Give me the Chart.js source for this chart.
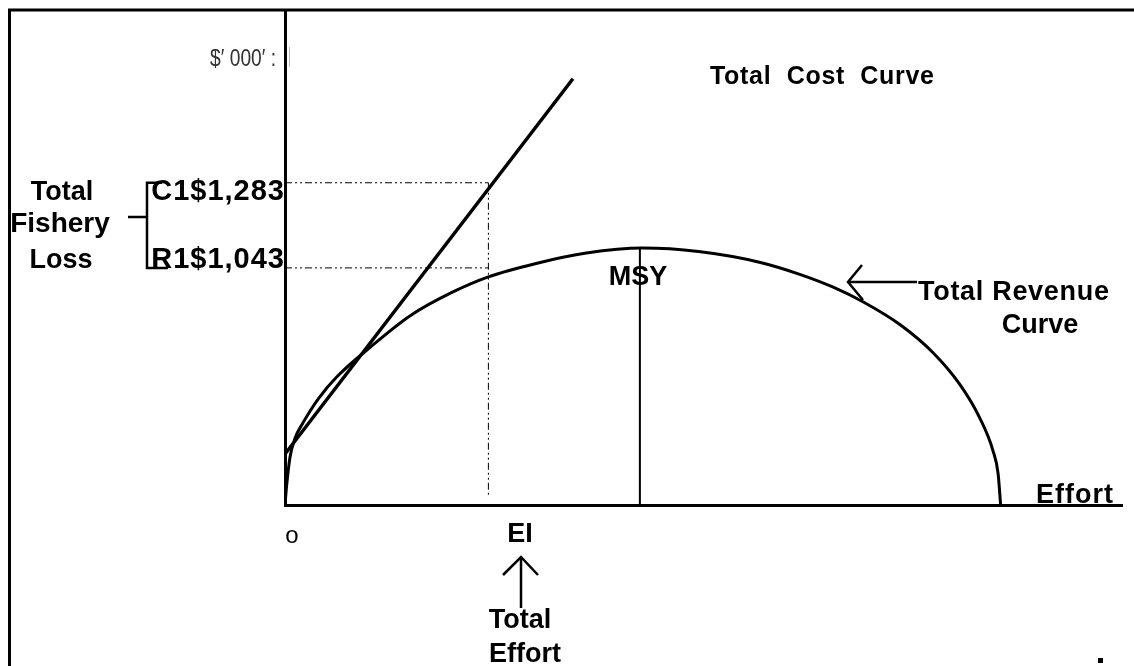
<!DOCTYPE html>
<html>
<head>
<meta charset="utf-8">
<script src="https://cdn.jsdelivr.net/npm/chart.js@4.4.1/dist/chart.umd.min.js"></script>
<style>
  html, body { margin: 0; padding: 0; background: #fff; }
  #wrap { position: absolute; left: 0; top: 0; width: 1134px; height: 666px; }
</style>
</head>
<body>
<div id="wrap"><canvas id="fishChart" width="1134" height="666"></canvas></div>
<script>
// 데이터 (그림에서 읽은 값, 축은 0~100 임의 단위)
const revenueEffort = [0, 0.2, 0.6, 1.2, 2.15, 4, 6.2, 10.2, 15, 20, 24.3, 30, 36, 42.7, 49.4, 56.8, 61.5, 65.5, 69.1, 73.5, 77.4, 80.6, 83.0, 84.6, 85.2, 85.5];
const revenueValue = [0, 4.0, 9.7, 13.5, 16.6, 21.5, 25.9, 31.9, 38.3, 43.0, 46.1, 48.8, 50.9, 51.9, 51.2, 49.0, 46.6, 44.0, 41.0, 36.4, 30.8, 24.4, 17.6, 10.9, 6.3, 0];

const costEffort = [0, 34.4];
const costValue = [10.3, 86.1];

const msyEffort = 42.4;
const msyValue = 51.9;

const eiEffort = 24.3;
const c1Value = 65.1;
const r1Value = 47.9;

const yTickValues = [c1Value, r1Value];
const yTickLabels = ["C1$1,283", "R1$1,043"];

const ctx = document.querySelector("#fishChart");

function pts(xs, ys) {
  return xs.map((x, i) => ({ x: x, y: ys[i] }));
}

const dashStyle = [7, 3, 2, 3, 2, 3];

// 글자 그리기
function text(c, str, x, y, size, align, opt) {
  opt = opt || {};
  c.save();
  c.font = (opt.weight || "bold") + " " + size + "px " + (opt.family || "'Liberation Sans', Arial, sans-serif");
  c.fillStyle = opt.color || "#000";
  c.textAlign = align;
  c.textBaseline = "alphabetic";
  if (opt.ls) c.letterSpacing = opt.ls;
  c.translate(x, y);
  if (opt.sx) c.scale(opt.sx, 1);
  c.fillText(str, 0, 0);
  c.restore();
}

function line(c, p, w) {
  c.beginPath();
  c.moveTo(p[0][0], p[0][1]);
  for (let i = 1; i < p.length; i++) c.lineTo(p[i][0], p[i][1]);
  c.lineWidth = w;
  c.strokeStyle = "#000";
  c.stroke();
}

const extras = {
  id: "extras",
  afterDraw(chart) {
    const c = chart.ctx;
    const ys = chart.scales.y;
    const yC1 = ys.getPixelForValue(yTickValues[0]);
    const yR1 = ys.getPixelForValue(yTickValues[1]);

    // 테두리
    c.save();
    c.lineCap = "butt";
    line(c, [[8, 10], [1134, 10]], 3);
    line(c, [[9.5, 9], [9.5, 666]], 3);

    // 눈금 글자
    text(c, yTickLabels[0], 285, yC1 + 17, 29, "right", { ls: "1px" });
    text(c, yTickLabels[1], 285, yR1, 29, "right", { ls: "1px" });

    // 괄호
    line(c, [[162, yC1], [147, yC1], [147, yR1], [168, yR1]], 2.5);
    line(c, [[128, 217], [147, 217]], 2.5);

    text(c, "Total", 62, 200, 27, "center");
    text(c, "Fishery", 60, 232, 28, "center");
    text(c, "Loss", 61, 268, 27, "center");

    text(c, "$\u2032 000\u2032 :", 276, 66, 24, "right", { weight: "normal", color: "#333", sx: 0.8 });
    c.strokeStyle = "#bbb";
    c.lineWidth = 1;
    c.beginPath(); c.moveTo(289.5, 47); c.lineTo(289.5, 67); c.stroke();

    text(c, "Total  Cost  Curve", 710, 84, 25, "left", { ls: "0.7px" });
    text(c, "MSY", 638, 285, 27, "center");

    // 총수입 화살표
    line(c, [[917, 282], [848, 282]], 2.5);
    line(c, [[862, 265], [848, 282], [863, 300]], 2.5);
    text(c, "Total Revenue", 918, 300, 27, "left", { ls: "0.7px" });
    text(c, "Curve", 1040, 333, 27, "center");
    text(c, "Effort", 1036, 503, 27, "left", { ls: "1px" });

    text(c, "o", 292, 543, 24, "center", { weight: "normal" });
    text(c, "EI", 520, 542, 27, "center");

    // 노력 화살표
    line(c, [[521, 608], [521, 558]], 2.5);
    line(c, [[503, 575], [521, 557], [538, 575]], 2.5);
    text(c, "Total", 520, 628, 27, "center");
    text(c, "Effort", 525, 662, 27, "center");

    c.fillStyle = "#000";
    c.fillRect(1098, 658, 5, 5);
    c.restore();
  },
};

new Chart(ctx, {
  type: "scatter",
  data: {
    datasets: [
      {
        label: "Total Revenue",
        data: pts(revenueEffort, revenueValue),
        showLine: true,
        borderColor: "#000",
        borderWidth: 3,
        cubicInterpolationMode: "monotone",
        pointRadius: 0,
      },
      {
        label: "Total Cost",
        data: pts(costEffort, costValue),
        showLine: true,
        borderColor: "#000",
        borderWidth: 3.5,
        pointRadius: 0,
      },
      {
        label: "MSY",
        data: [{ x: msyEffort, y: 0 }, { x: msyEffort, y: msyValue }],
        showLine: true,
        borderColor: "#000",
        borderWidth: 2,
        pointRadius: 0,
      },
      {
        label: "C1",
        data: [{ x: 0, y: c1Value }, { x: eiEffort, y: c1Value }],
        showLine: true,
        borderColor: "#000",
        borderWidth: 1,
        borderDash: dashStyle,
        pointRadius: 0,
      },
      {
        label: "R1",
        data: [{ x: 0, y: r1Value }, { x: eiEffort, y: r1Value }],
        showLine: true,
        borderColor: "#000",
        borderWidth: 1,
        borderDash: dashStyle,
        pointRadius: 0,
      },
      {
        label: "EI",
        data: [{ x: eiEffort, y: c1Value }, { x: eiEffort, y: 1.5 }],
        showLine: true,
        borderColor: "#000",
        borderWidth: 1,
        borderDash: dashStyle,
        pointRadius: 0,
      },
    ],
  },
  options: {
    responsive: false,
    animation: false,
    layout: { padding: { left: 0, right: 12, top: 10, bottom: 0 } },
    plugins: { legend: { display: false }, tooltip: { enabled: false } },
    scales: {
      x: {
        type: "linear",
        min: 0,
        max: 100,
        grid: { display: false },
        ticks: { display: false },
        border: { display: true, color: "#000", width: 3 },
        afterFit(scale) { scale.height = 161; },
      },
      y: {
        type: "linear",
        min: 0,
        max: 100,
        grid: { display: false },
        ticks: { display: false },
        border: { display: true, color: "#000", width: 3 },
        afterFit(scale) { scale.width = 285; },
      },
    },
  },
  plugins: [extras],
});
</script>
</body>
</html>
